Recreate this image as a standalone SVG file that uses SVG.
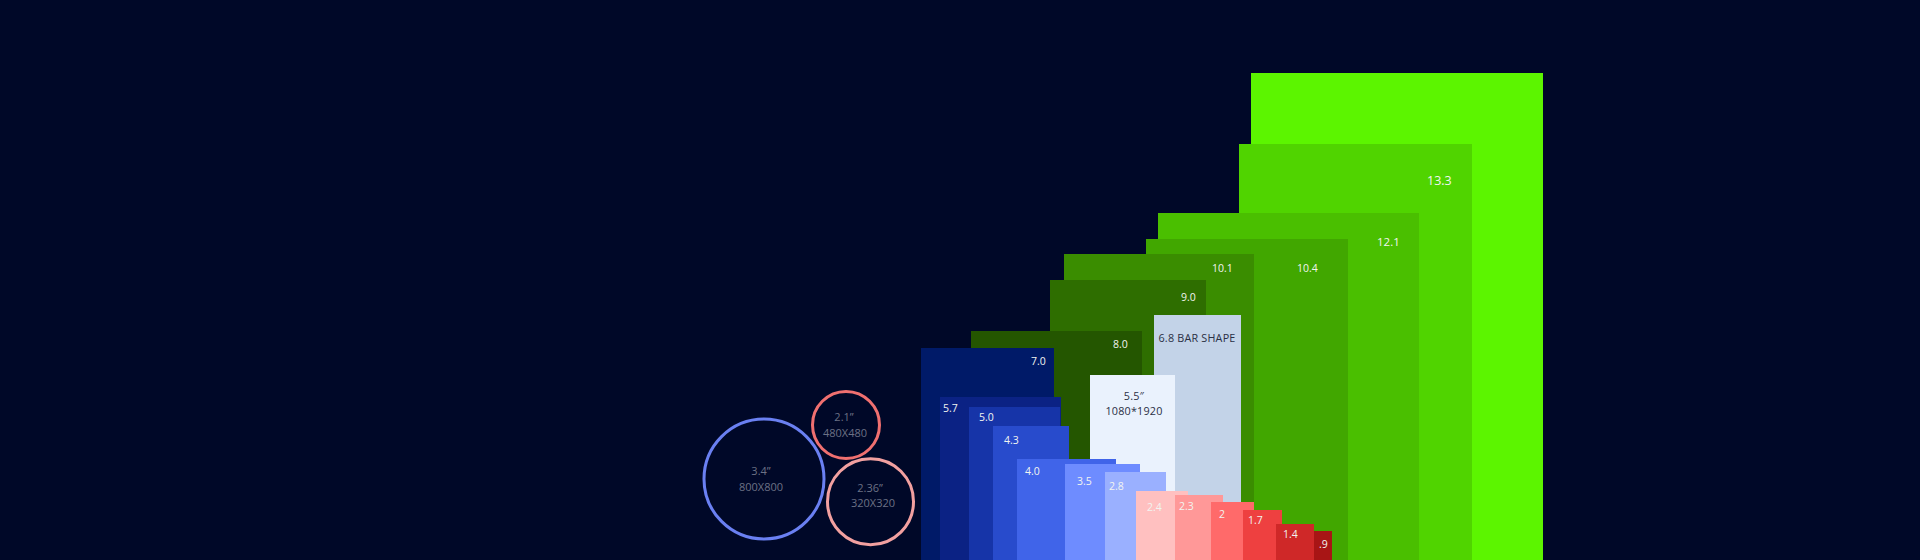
<svg xmlns="http://www.w3.org/2000/svg" width="1920" height="560" viewBox="0 0 1920 560">
<style>
.lbl{font-family:"Open Sans","Noto Sans","DejaVu Sans",sans-serif;font-size:10.5px;fill:#F2F4F0}
.dk{font-family:"Open Sans","Noto Sans","DejaVu Sans",sans-serif;font-size:10.8px;fill:#2A3045;letter-spacing:0.2px}
.ct{font-family:"Open Sans","Noto Sans","DejaVu Sans",sans-serif;font-size:11px;fill:#6C7185}
.ring{fill:none;stroke-width:3}
</style>
<rect x="0" y="0" width="1920" height="560" fill="#000828"/>
<g id="r13-3"><rect x="1251" y="73" width="292" height="487" fill="#5CF500"/></g>
<g id="r-13-3"><rect x="1239" y="144" width="233" height="416" fill="#50D400"/><text class="lbl" x="1427" y="185" style="font-size:12.5px">13.3</text></g>
<g id="r12-1"><rect x="1158" y="213" width="261" height="347" fill="#4ABF00"/><text class="lbl" x="1377" y="246" style="font-size:11.5px">12.1</text></g>
<g id="r10-4"><rect x="1146" y="239" width="202" height="321" fill="#41A700"/><text class="lbl" x="1297" y="272">10.4</text></g>
<g id="r10-1"><rect x="1064" y="254" width="190" height="306" fill="#3A8D00"/><text class="lbl" x="1212" y="272">10.1</text></g>
<g id="r9-0"><rect x="1050" y="280" width="156" height="280" fill="#2E6E00"/><text class="lbl" x="1181" y="301">9.0</text></g>
<g id="r6-8"><rect x="1154" y="315" width="87" height="245" fill="#C3D3E8"/><text class="dk" x="1197" y="342" text-anchor="middle">6.8 BAR SHAPE</text></g>
<g id="r8-0"><rect x="971" y="331" width="171" height="229" fill="#245600"/><text class="lbl" x="1113" y="348">8.0</text></g>
<g id="r7-0"><rect x="921" y="348" width="133" height="212" fill="#001A68"/><text class="lbl" x="1031" y="365">7.0</text></g>
<g id="r5-5"><rect x="1090" y="375" width="85" height="185" fill="#EAF2FD"/><text class="dk" x="1134" y="400" text-anchor="middle">5.5″</text><text class="dk" x="1134" y="415" text-anchor="middle">1080*1920</text></g>
<g id="r5-7"><rect x="940" y="397" width="121" height="163" fill="#0B2284"/><text class="lbl" x="943" y="412">5.7</text></g>
<g id="r5-0"><rect x="969" y="407" width="91" height="153" fill="#1634A8"/><text class="lbl" x="979" y="421">5.0</text></g>
<g id="r4-3"><rect x="993" y="426" width="76" height="134" fill="#284BCC"/><text class="lbl" x="1004" y="444">4.3</text></g>
<g id="r4-0"><rect x="1017" y="459" width="99" height="101" fill="#4064E9"/><text class="lbl" x="1025" y="475">4.0</text></g>
<g id="r3-5"><rect x="1065" y="464" width="75" height="96" fill="#6E8CFF"/><text class="lbl" x="1077" y="485">3.5</text></g>
<g id="r2-8"><rect x="1105" y="472" width="61" height="88" fill="#9AB0FF"/><text class="lbl" x="1109" y="490">2.8</text></g>
<g id="r2-4"><rect x="1136" y="491" width="52" height="69" fill="#FFC0C0"/><text class="lbl" x="1147" y="511">2.4</text></g>
<g id="r2-3"><rect x="1175" y="495" width="48" height="65" fill="#FF9898"/><text class="lbl" x="1179" y="510">2.3</text></g>
<g id="r2"><rect x="1211" y="502" width="43" height="58" fill="#FF6A6A"/><text class="lbl" x="1219" y="518">2</text></g>
<g id="r1-7"><rect x="1243" y="510" width="39" height="50" fill="#EE4040"/><text class="lbl" x="1248" y="524">1.7</text></g>
<g id="r1-4"><rect x="1276" y="524" width="38" height="36" fill="#CF2828"/><text class="lbl" x="1283" y="538">1.4</text></g>
<g id="r0-9"><rect x="1314" y="531" width="18" height="29" fill="#A81515"/><text class="lbl" x="1319" y="548">.9</text></g>
<g id="c3-4"><circle class="ring" cx="764" cy="479" r="60" stroke="#6A80F2"/><text class="ct" x="761" y="475" text-anchor="middle">3.4”</text><text class="ct" x="761" y="490.5" text-anchor="middle">800X800</text></g>
<g id="c2-1"><circle class="ring" cx="846" cy="425" r="33.5" stroke="#F07070"/><text class="ct" x="844" y="421" text-anchor="middle">2.1”</text><text class="ct" x="845" y="436.5" text-anchor="middle">480X480</text></g>
<g id="c2-36"><circle class="ring" cx="870.5" cy="501.7" r="43" stroke="#F2A0A0"/><text class="ct" x="870" y="491.5" text-anchor="middle">2.36”</text><text class="ct" x="873" y="507" text-anchor="middle">320X320</text></g>
<g id="connectors"></g>
</svg>
